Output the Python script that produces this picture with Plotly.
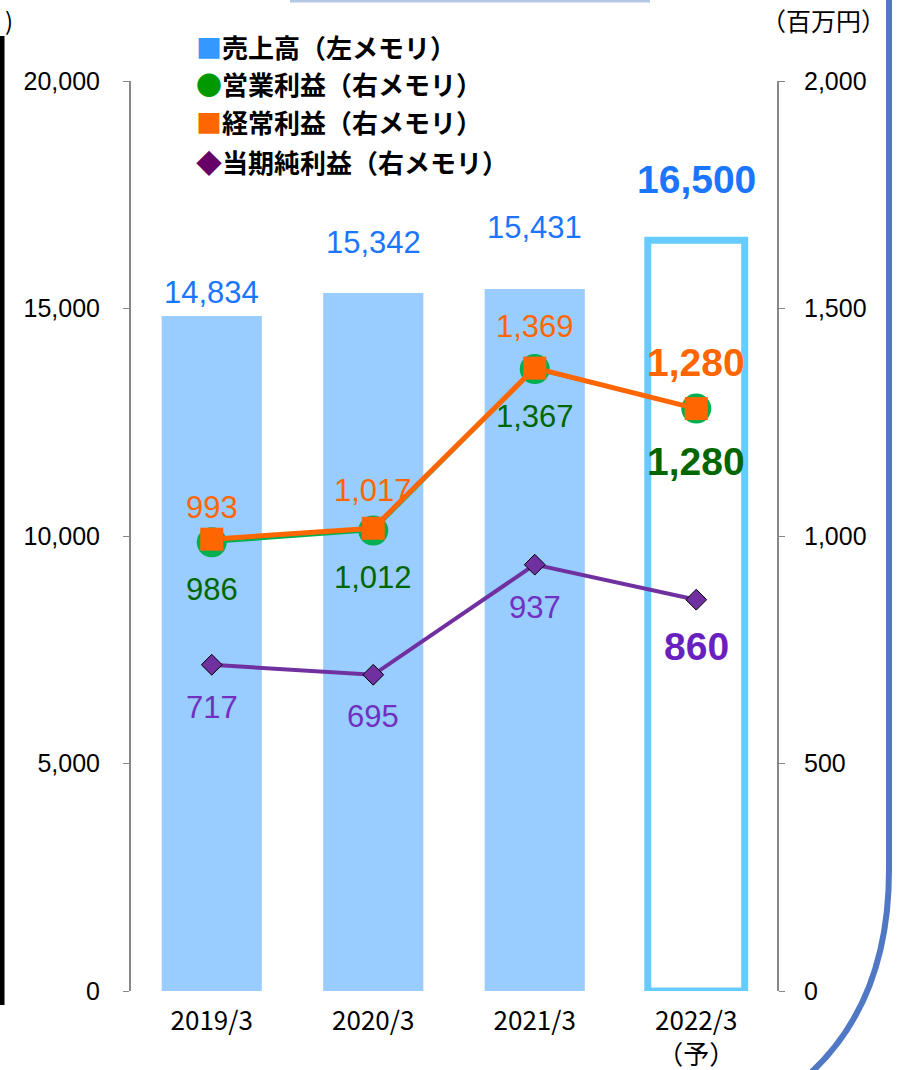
import plotly.graph_objects as go

# ---- data ----
categories = ["2019/3", "2020/3", "2021/3", "2022/3<br>（予）"]
sales = [14834, 15342, 15431, 16500]          # 売上高 (left axis)
operating = [986, 1012, 1367, 1280]           # 営業利益 (right axis)
ordinary = [993, 1017, 1369, 1280]            # 経常利益 (right axis)
net = [717, 695, 937, 860]                    # 当期純利益 (right axis)
left_ticks = [0, 5000, 10000, 15000, 20000]
right_ticks = [0, 500, 1000, 1500, 2000]

# label offsets (pixels, style only)
sales_off = [-24, -50, -61, -61]
ord_off = [-32, -38, -42, -46]
op_off = [47, 47, 47, 53]
net_off = [43, 42, 43, 47]

W, H = 899, 1070
L, R, T, B = 131, 777, 81, 991

def px_x(p):
    return (p - L) / (R - L)

def px_y(p):
    return (B - p) / (B - T)

NUM_FONT = "Liberation Sans, Arial, sans-serif"
JP_FONT = "Noto Sans CJK JP, sans-serif"

fig = go.Figure()

bar_fill = ["#99CCFF", "#99CCFF", "#99CCFF", "rgba(255,255,255,0)"]
bar_line_c = ["#99CCFF", "#99CCFF", "#99CCFF", "#66CCFF"]
bar_line_w = [0, 0, 0, 7]
fig.add_trace(go.Bar(
    x=categories, y=sales, width=[0.62, 0.62, 0.62, 0.6],
    marker=dict(color=bar_fill, line=dict(color=bar_line_c, width=bar_line_w)),
    yaxis="y", showlegend=False, hoverinfo="skip"))

fig.add_trace(go.Scatter(
    x=categories, y=operating, yaxis="y2", mode="lines+markers",
    line=dict(color="#00B050", width=3),
    marker=dict(symbol="circle", size=30, color="#00B050"),
    showlegend=False, hoverinfo="skip"))
fig.add_trace(go.Scatter(
    x=categories, y=ordinary, yaxis="y2", mode="lines+markers",
    line=dict(color="#FF6600", width=5),
    marker=dict(symbol="square", size=23, color="#FF6600"),
    showlegend=False, hoverinfo="skip"))
fig.add_trace(go.Scatter(
    x=categories, y=net, yaxis="y2", mode="lines+markers",
    line=dict(color="#7030A0", width=4),
    marker=dict(symbol="diamond", size=16, color="#7030A0",
                line=dict(color="#000000", width=1)),
    showlegend=False, hoverinfo="skip"))

ann = []
last = len(categories) - 1
for i, c in enumerate(categories):
    big = i == last
    sz = 39 if big else 31
    wt = "bold" if big else "normal"
    ann.append(dict(x=c, y=sales[i], yref="y", xref="x", text=f"{sales[i]:,}",
                    showarrow=False, yshift=-sales_off[i],
                    font=dict(family=NUM_FONT, size=sz, color="#1A75FF", weight=wt)))
    ann.append(dict(x=c, y=ordinary[i], yref="y2", xref="x", text=f"{ordinary[i]:,}",
                    showarrow=False, yshift=-ord_off[i],
                    font=dict(family=NUM_FONT, size=sz, color="#FF6600", weight=wt)))
    ann.append(dict(x=c, y=operating[i], yref="y2", xref="x", text=f"{operating[i]:,}",
                    showarrow=False, yshift=-op_off[i],
                    font=dict(family=NUM_FONT, size=sz, color="#006600", weight=wt)))
    ann.append(dict(x=c, y=net[i], yref="y2", xref="x", text=f"{net[i]:,}",
                    showarrow=False, yshift=-net_off[i],
                    font=dict(family=NUM_FONT, size=sz,
                              color="#7030C0" if not big else "#6A1FC0", weight=wt)))

legend_rows = [
    ("■", "#3399FF", "売上高（左メモリ）"),
    ("●", "#009900", "営業利益（右メモリ）"),
    ("■", "#FF6600", "経常利益（右メモリ）"),
    ("◆", "#660066", "当期純利益（右メモリ）"),
]
legend_y = [47, 83, 122, 161]
for (sym, col, txt), ly in zip(legend_rows, legend_y):
    ann.append(dict(xref="paper", yref="paper", x=px_x(194), y=px_y(ly),
                    xanchor="left", yanchor="middle", showarrow=False,
                    text=f"<span style='color:{col}'>{sym}</span>{txt}",
                    font=dict(family=JP_FONT, size=26, color="#000000", weight="bold")))

ann.append(dict(xref="paper", yref="paper", x=px_x(888), y=px_y(20),
                xanchor="right", yanchor="middle", showarrow=False,
                text="（百万円）", font=dict(family=JP_FONT, size=25, color="#000000")))
ann.append(dict(xref="paper", yref="paper", x=px_x(3), y=px_y(19),
                xanchor="left", yanchor="middle", showarrow=False,
                text=")", font=dict(family=JP_FONT, size=24, color="#000000")))

shapes = [
    # left black rule
    dict(type="line", xref="paper", yref="paper", x0=px_x(2), x1=px_x(2),
         y0=px_y(36), y1=px_y(1005), line=dict(color="#000000", width=5)),
    # top light-blue box edge
    dict(type="line", xref="paper", yref="paper", x0=px_x(290), x1=px_x(650),
         y0=px_y(1), y1=px_y(1), line=dict(color="#B4C7E7", width=3)),
    # right rounded border
    dict(type="path", xref="paper", yref="paper",
         path=(f"M {px_x(889)},{px_y(-5)} L {px_x(889)},{px_y(870)} "
               f"C {px_x(889)},{px_y(960)} {px_x(860)},{px_y(1030)} {px_x(805)},{px_y(1078)}"),
         line=dict(color="#5078C4", width=6)),
]

fig.update_layout(
    width=W, height=H,
    margin=dict(l=L, r=W - R, t=T, b=H - B, pad=0, autoexpand=False),
    paper_bgcolor="white", plot_bgcolor="white",
    showlegend=False, annotations=ann, shapes=shapes,
    bargap=0.38,
    xaxis=dict(showline=False, showgrid=False, zeroline=False, ticks="",
               automargin=False,
               tickfont=dict(family=JP_FONT, size=26, color="#000000"),
               ticklabelstandoff=12),
    yaxis=dict(range=[0, 20000], tickvals=left_ticks, tickformat=",",
               automargin=False,
               showgrid=False, zeroline=False, showline=True, linecolor="#888888",
               linewidth=2, ticks="outside", ticklen=6, tickcolor="#888888",
               tickfont=dict(family=NUM_FONT, size=25, color="#000000"),
               ticklabelstandoff=18),
    yaxis2=dict(range=[0, 2000], tickvals=right_ticks, tickformat=",",
                overlaying="y", side="right", showgrid=False, zeroline=False,
                automargin=False,
                showline=True, linecolor="#888888", linewidth=2, ticks="outside",
                ticklen=6, tickcolor="#888888",
                tickfont=dict(family=NUM_FONT, size=25, color="#000000"),
                ticklabelstandoff=14),
)

fig.write_html("out.html")
